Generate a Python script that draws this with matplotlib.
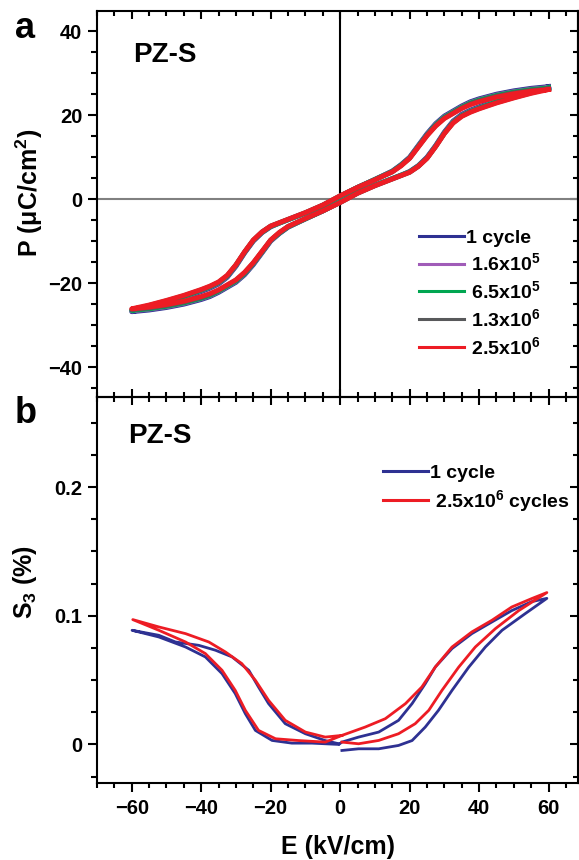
import matplotlib
matplotlib.use('Agg')
import matplotlib.pyplot as plt
from matplotlib.lines import Line2D
from matplotlib.ticker import MultipleLocator

plt.rcParams['font.family'] = ['Liberation Sans', 'DejaVu Sans']
plt.rcParams['font.weight'] = 'bold'
plt.rcParams['axes.labelweight'] = 'bold'
plt.rcParams['mathtext.fontset'] = 'custom'
plt.rcParams['mathtext.rm'] = 'Liberation Sans:bold'
plt.rcParams['mathtext.bf'] = 'Liberation Sans:bold'
plt.rcParams['mathtext.it'] = 'Liberation Sans:bold'
plt.rcParams['mathtext.default'] = 'bf'

# ---- panel a: P-E loops ----
# field on the descending branch (+60 -> -60) and on the ascending branch (-60 -> +60)
e_desc = [60, 55, 50, 45, 40, 37.5, 35, 32.5, 30, 27.5, 25, 22.5, 20, 17.5, 15, 10, 5, 0,
          -5, -10, -15, -17.5, -20, -22.5, -25, -27.5, -30, -32.5, -35, -37.5, -40, -45, -50, -55, -60]
e_asc = [-60, -55, -50, -45, -40, -37.5, -35, -32.5, -30, -27.5, -25, -22.5, -20, -17.5, -15, -10, -5, 0,
         5, 10, 15, 17.5, 20, 22.5, 25, 27.5, 30, 32.5, 35, 37.5, 40, 45, 50, 55, 60]

p_1cycle_desc = [26.8, 26.4, 25.8, 25.0, 23.9, 23.2, 22.2, 21.0, 19.8, 18.0, 15.6, 12.8, 10.0, 8.2, 6.7, 4.7, 2.8, 0.7,
                 -1.5, -3.3, -4.9, -5.7, -6.6, -8.0, -10.0, -12.8, -16.0, -18.6, -20.2, -21.2, -22.0, -23.5, -24.7, -25.8, -26.8]
p_1cycle_asc = [-26.8, -26.4, -25.8, -25.0, -23.9, -23.2, -22.2, -21.0, -19.8, -18.0, -15.6, -12.8, -10.0, -8.2, -6.7, -4.7, -2.8, -0.7,
                1.5, 3.3, 4.9, 5.7, 6.6, 8.0, 10.0, 12.8, 16.0, 18.6, 20.2, 21.2, 22.0, 23.5, 24.7, 25.8, 26.8]

p_16e5_desc = [26.6, 26.2, 25.6, 24.8, 23.7, 23.0, 22.0, 20.8, 19.6, 17.8, 15.4, 12.7, 9.9, 8.1, 6.6, 4.7, 2.8, 0.7,
               -1.5, -3.3, -4.9, -5.7, -6.5, -7.9, -9.9, -12.7, -15.8, -18.4, -20.0, -21.0, -21.8, -23.3, -24.5, -25.6, -26.6]
p_16e5_asc = [-26.6, -26.2, -25.6, -24.8, -23.7, -23.0, -22.0, -20.8, -19.6, -17.8, -15.4, -12.7, -9.9, -8.1, -6.6, -4.7, -2.8, -0.7,
              1.5, 3.3, 4.9, 5.7, 6.5, 7.9, 9.9, 12.7, 15.8, 18.4, 20.0, 21.0, 21.8, 23.3, 24.5, 25.6, 26.6]

p_65e5_desc = [26.5, 26.1, 25.5, 24.7, 23.6, 22.9, 21.9, 20.7, 19.5, 17.7, 15.3, 12.6, 9.8, 8.1, 6.6, 4.7, 2.8, 0.7,
               -1.5, -3.3, -4.9, -5.7, -6.5, -7.9, -9.8, -12.6, -15.7, -18.3, -19.9, -20.9, -21.7, -23.2, -24.4, -25.5, -26.5]
p_65e5_asc = [-26.5, -26.1, -25.5, -24.7, -23.6, -22.9, -21.9, -20.7, -19.5, -17.7, -15.3, -12.6, -9.8, -8.1, -6.6, -4.7, -2.8, -0.7,
              1.5, 3.3, 4.9, 5.7, 6.5, 7.9, 9.8, 12.6, 15.7, 18.3, 19.9, 20.9, 21.7, 23.2, 24.4, 25.5, 26.5]

p_13e6_desc = [26.3, 25.9, 25.3, 24.5, 23.4, 22.7, 21.7, 20.5, 19.3, 17.5, 15.2, 12.5, 9.8, 8.0, 6.5, 4.6, 2.8, 0.8,
               -1.4, -3.2, -4.8, -5.6, -6.4, -7.8, -9.8, -12.6, -15.7, -18.2, -19.8, -20.8, -21.6, -23.0, -24.2, -25.3, -26.3]
p_13e6_asc = [-26.3, -25.9, -25.3, -24.5, -23.4, -22.7, -21.7, -20.5, -19.3, -17.5, -15.2, -12.5, -9.8, -8.0, -6.5, -4.6, -2.8, -0.8,
              1.4, 3.2, 4.8, 5.6, 6.4, 7.8, 9.8, 12.6, 15.7, 18.2, 19.8, 20.8, 21.6, 23.0, 24.2, 25.3, 26.3]

p_25e6_desc = [26.1, 25.7, 25.1, 24.3, 23.2, 22.5, 21.6, 20.4, 19.2, 17.4, 15.1, 12.4, 9.7, 7.9, 6.5, 4.6, 2.8, 0.8,
               -1.4, -3.2, -4.8, -5.6, -6.4, -7.8, -9.7, -12.5, -15.6, -18.1, -19.7, -20.7, -21.5, -22.9, -24.1, -25.2, -26.1]
p_25e6_asc = [-26.1, -25.7, -25.1, -24.3, -23.2, -22.5, -21.6, -20.4, -19.2, -17.4, -15.1, -12.4, -9.7, -7.9, -6.5, -4.6, -2.8, -0.8,
              1.4, 3.2, 4.8, 5.6, 6.4, 7.8, 9.7, 12.5, 15.6, 18.1, 19.7, 20.7, 21.5, 22.9, 24.1, 25.2, 26.1]

pe_labels = ['1 cycle', ' 1.6x10$^5$', ' 6.5x10$^5$', ' 1.3x10$^6$', ' 2.5x10$^6$']
pe_colors = ['#2e3192', '#a05cb8', '#00a651', '#58595b', '#ed1c24']
pe_desc = [p_1cycle_desc, p_16e5_desc, p_65e5_desc, p_13e6_desc, p_25e6_desc]
pe_asc = [p_1cycle_asc, p_16e5_asc, p_65e5_asc, p_13e6_asc, p_25e6_asc]

# ---- panel b: strain loops (S3 in %) ----
e_s_1cycle = [0.5, 5.3, 11.1, 16.8, 20.7, 24.5, 28.3, 32.2, 37.0, 41.8, 46.6, 53.3, 59.5,
              55.2, 49.4, 43.7, 37.9, 32.2, 27.4, 24.5, 20.7, 16.8, 11.1, 5.3, 0.5,
              -0.4, -8.1, -13.9, -19.6, -24.4, -27.3, -30.2, -34.0, -38.8, -44.5, -52.2, -59.9,
              -52.2, -47.4, -40.7, -35.9, -31.1, -26.3, -23.5, -20.6, -15.8, -10.0, -4.3, -0.4]
s_1cycle = [-0.0047, -0.0034, -0.0034, -0.0008, 0.003, 0.0135, 0.0265, 0.042, 0.060, 0.0757, 0.0887, 0.1017, 0.1135,
            0.111, 0.104, 0.0952, 0.0861, 0.0745, 0.0602, 0.0472, 0.0317, 0.0187, 0.0096, 0.0057, 0.0018,
            0.000, 0.001, 0.001, 0.0031, 0.0109, 0.0239, 0.0395, 0.055, 0.068, 0.0757, 0.0835, 0.0887,
            0.0848, 0.0796, 0.077, 0.0732, 0.068, 0.0576, 0.0446, 0.0317, 0.0161, 0.0083, 0.003, 0.0005]

e_s_25e6 = [0.5, 5.3, 11.1, 16.8, 21.6, 25.5, 29.3, 34.1, 38.9, 44.7, 51.4, 59.5,
            55.2, 49.4, 43.7, 37.9, 32.2, 27.4, 23.5, 18.8, 13.0, 7.2, 0.5,
            -4.3, -11.9, -18.6, -23.5, -27.3, -30.2, -34.0, -38.8, -44.5, -52.2, -59.7,
            -52.2, -44.5, -37.8, -33.0, -28.3, -24.4, -20.6, -15.8, -10.0, -4.3, 0.5]
s_25e6 = [0.0018, 0.0005, 0.0031, 0.0083, 0.0161, 0.0265, 0.042, 0.060, 0.0757, 0.090, 0.104, 0.118,
          0.1134, 0.1068, 0.0965, 0.0874, 0.0757, 0.0602, 0.0446, 0.0317, 0.020, 0.0135, 0.007,
          0.0018, 0.003, 0.0044, 0.0109, 0.0265, 0.042, 0.0576, 0.0706, 0.0796, 0.0887, 0.097,
          0.0913, 0.0861, 0.0796, 0.0718, 0.0628, 0.0498, 0.0342, 0.0187, 0.0096, 0.0057, 0.007]

x_ticks = [-60, -40, -20, 0, 20, 40, 60]
p_ticks = [-40, -20, 0, 20, 40]
s_ticks = [0, 0.1, 0.2]
s_tick_labels = ['0', '0.1', '0.2']

fig = plt.figure(figsize=(5.79, 8.60), dpi=100)
ax1 = fig.add_axes([0.1675, 0.5384, 0.8310, 0.4488])
ax2 = fig.add_axes([0.1675, 0.0895, 0.8310, 0.4489])

tick_fs = 14.5
label_fs = 18
spine_w = 1.5

for ax in (ax1, ax2):
    for sp in ax.spines.values():
        sp.set_linewidth(spine_w)
    ax.set_xlim(-70, 68.5)
    ax.set_xticks(x_ticks)
    ax.xaxis.set_minor_locator(MultipleLocator(5))

# top panel
ax1.axvline(0, color='black', lw=1.5, zorder=1)
ax1.axhline(0, color='#808080', lw=1.5, zorder=1)
for pd, pa, c in zip(pe_desc, pe_asc, pe_colors):
    ax1.plot(e_desc + e_asc, pd + pa, color=c, lw=3.5, solid_joinstyle='round', zorder=2)
ax1.set_ylim(-47.1, 44.8)
ax1.set_yticks(p_ticks)
ax1.yaxis.set_minor_locator(MultipleLocator(5))
ax1.tick_params(axis='x', which='both', direction='in', top=True, bottom=True,
                labelbottom=False, width=spine_w)
ax1.tick_params(axis='x', which='major', length=6)
ax1.tick_params(axis='x', which='minor', length=3.5)
ax1.tick_params(axis='y', which='both', direction='out', left=True, right=False,
                labelsize=tick_fs, width=spine_w, pad=4)
ax1.tick_params(axis='y', which='major', length=6.5)
ax1.tick_params(axis='y', which='minor', length=4)
sy1 = ax1.secondary_yaxis('right')
sy1.set_yticks(p_ticks)
sy1.yaxis.set_minor_locator(MultipleLocator(5))
sy1.tick_params(which='both', direction='in', labelright=False, width=spine_w)
sy1.tick_params(which='major', length=6)
sy1.tick_params(which='minor', length=3.5)
sy1.spines['right'].set_linewidth(spine_w)
ax1.set_ylabel('P (μC/cm$^{2}$)', fontsize=label_fs)
ax1.yaxis.set_label_coords(-0.108, 0.53)
ax1.text(0.075, 0.885, 'PZ-S', transform=ax1.transAxes, fontsize=20,
         fontweight='bold', ha='left', va='center')

handles1 = [Line2D([], [], color=c, lw=2.2) for c in pe_colors]
ax1.legend(handles1, pe_labels, loc='upper left', bbox_to_anchor=(0.669, 0.435),
           frameon=False, fontsize=14, handlelength=2.3, handletextpad=0.1,
           labelspacing=0.3, borderpad=0, borderaxespad=0)

# bottom panel
ax2.plot(e_s_1cycle, s_1cycle, color=pe_colors[0], lw=2, zorder=2)
ax2.plot(e_s_25e6, s_25e6, color=pe_colors[4], lw=2, zorder=3)
ax2.set_ylim(-0.030, 0.270)
ax2.set_yticks(s_ticks)
ax2.set_yticklabels(s_tick_labels)
ax2.yaxis.set_minor_locator(MultipleLocator(0.025))
ax2.tick_params(axis='x', which='both', direction='out', top=False, bottom=True,
                labelsize=tick_fs, width=spine_w, pad=5)
ax2.tick_params(axis='x', which='major', length=6.5)
ax2.tick_params(axis='x', which='minor', length=3.5)
ax2.tick_params(axis='y', which='both', direction='out', left=True, right=False,
                labelsize=tick_fs, width=spine_w, pad=4)
ax2.tick_params(axis='y', which='major', length=6.5)
ax2.tick_params(axis='y', which='minor', length=4)
sx2 = ax2.secondary_xaxis('top')
sx2.set_xticks(x_ticks)
sx2.xaxis.set_minor_locator(MultipleLocator(5))
sx2.tick_params(which='both', direction='in', labeltop=False, width=spine_w)
sx2.tick_params(which='major', length=6)
sx2.tick_params(which='minor', length=3.5)
sy2 = ax2.secondary_yaxis('right')
sy2.set_yticks(s_ticks)
sy2.yaxis.set_minor_locator(MultipleLocator(0.025))
sy2.tick_params(which='both', direction='in', labelright=False, width=spine_w)
sy2.tick_params(which='major', length=6)
sy2.tick_params(which='minor', length=3.5)
ax2.set_xlabel('E (kV/cm)', fontsize=label_fs, labelpad=12)
ax2.set_ylabel('S$_3$ (%)', fontsize=label_fs)
ax2.yaxis.set_label_coords(-0.12, 0.52)
ax2.text(0.064, 0.90, 'PZ-S', transform=ax2.transAxes, fontsize=20,
         fontweight='bold', ha='left', va='center')

handles2 = [Line2D([], [], color=pe_colors[0], lw=2.2), Line2D([], [], color=pe_colors[4], lw=2.2)]
ax2.legend(handles2, ['1 cycle', ' 2.5x10$^6$ cycles'], loc='upper left',
           bbox_to_anchor=(0.595, 0.825), frameon=False, fontsize=14,
           handlelength=2.3, handletextpad=0.1, labelspacing=0.3,
           borderpad=0, borderaxespad=0)

# panel letters
fig.text(0.026, 0.967, 'a', fontsize=26, fontweight='bold', ha='left', va='center')
fig.text(0.026, 0.519, 'b', fontsize=26, fontweight='bold', ha='left', va='center')

fig.savefig('out.png', dpi=100)
